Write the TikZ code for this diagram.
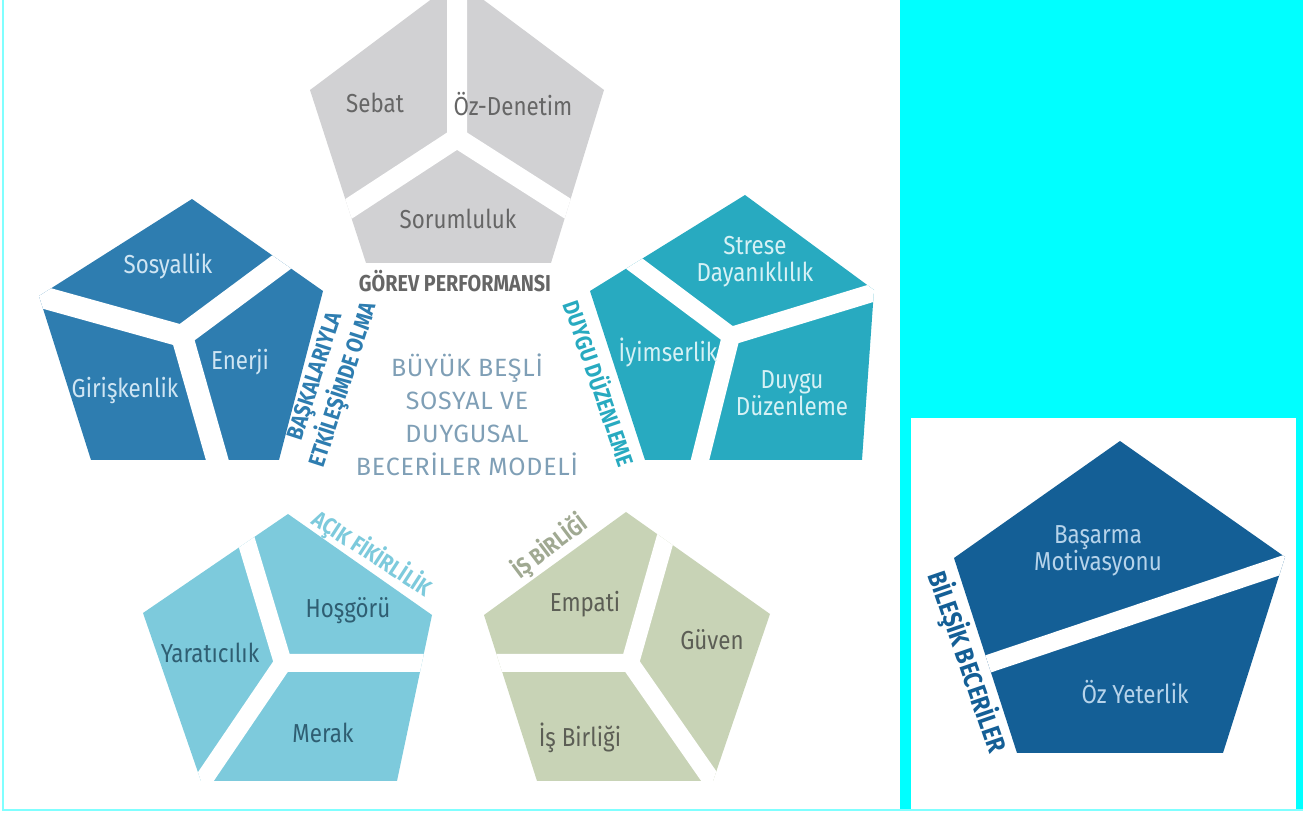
\documentclass[tikz,border=0pt]{standalone}
\usepackage{fontspec}
\setmainfont{Fira Sans}[FakeStretch=0.86]
\newfontfamily\titlefont{Fira Sans}[LetterSpace=3]
\definecolor{gorev}{HTML}{D1D1D3}
\definecolor{etkil}{HTML}{2E7DB0}
\definecolor{duygu}{HTML}{28AAC0}
\definecolor{acik}{HTML}{7DCADC}
\definecolor{isbir}{HTML}{C8D3B6}
\definecolor{bilesik}{HTML}{145F96}
\definecolor{cyanbox}{HTML}{00FFFF}
\definecolor{gtext}{HTML}{666666}
\definecolor{ltext}{HTML}{CFE5F3}
\definecolor{ttext}{HTML}{D6F1F5}
\definecolor{atext}{HTML}{2F5E72}
\definecolor{itext}{HTML}{5C5E55}
\definecolor{btext}{HTML}{B6D3EA}
\definecolor{title}{HTML}{7F9FB6}
\begin{document}
\begin{tikzpicture}[x=0.5pt, y=-0.5pt,
  every node/.style={inner sep=0pt, align=center, font=\fontsize{13}{13.5}\selectfont},
  gap/.style={white, line width=9pt},
  head/.style={font=\bfseries\fontsize{11.5}{13}\selectfont}]
\useasboundingbox (0,0) rectangle (1308,817);
% frame
\fill[cyanbox] (900,0) rectangle (1303,810);
\fill[white] (911,418) rectangle (1296,810);
\draw[cyanbox!50, line width=1pt] (3,0) -- (3,810) -- (1303,810);
% gorev performansi
\begin{scope}
  \clip (310,90) -- (457,-20) -- (604,90) -- (551,263) -- (366,263) -- cycle;
  \fill[gorev] (300,-30) rectangle (620,270);
  \draw[gap, line width=10pt] (457,138) -- (457,-30) (457,138) -- (330,221) (457,138) -- (587,221);
\end{scope}
% baskalariyla etkilesimde olma
\begin{scope}
  \clip (39,296) -- (192,199) -- (323,291) -- (279,460) -- (91,460) -- cycle;
  \fill[etkil] (30,190) rectangle (330,470);
  \draw[gap, line width=11pt] (182,336) -- (20,291) (182,336) -- (310,241) (182,336) -- (223,480);
\end{scope}
% duygu duzenleme
\begin{scope}
  \clip (590,291) -- (745,195) -- (874,290) -- (862,460) -- (645,460) -- cycle;
  \fill[duygu] (580,190) rectangle (880,470);
  \draw[gap] (731,336) -- (612,247) (731,336) -- (895,286) (731,336) -- (695,480);
\end{scope}
% acik fikirlilik
\begin{scope}
  \clip (143,613) -- (288,514) -- (432,615) -- (397,781) -- (201,781) -- cycle;
  \fill[acik] (130,505) rectangle (440,790);
  \draw[gap] (283,663) -- (240,520) (283,663) -- (450,663) (283,663) -- (192,797);
\end{scope}
% is birligi
\begin{scope}
  \clip (484,615) -- (626,512) -- (770,614) -- (713,781) -- (537,781) -- cycle;
  \fill[isbir] (475,505) rectangle (780,790);
  \draw[gap] (630,663) -- (672,515) (630,663) -- (465,663) (630,663) -- (724,798);
\end{scope}
% bilesik beceriler
\begin{scope}
  \clip (954,558) -- (1120,441) -- (1285,557) -- (1223,753) -- (1017,753) -- cycle;
  \fill[bilesik] (945,435) rectangle (1290,760);
  \draw[gap] (1300,559) -- (970,670);
\end{scope}
% labels
\node[gtext] (sebat) at (375,103) {Sebat};
\node[gtext] (ozdenetim) at (513,104) {Öz-Denetim};
\node[gtext] (sorum) at (458,219) {Sorumluluk};
\node[head, gtext] (gorevlbl) at (455,281) {GÖREV PERFORMANSI};
\node[ltext] (sosyal) at (168,266) {Sosyallik};
\node[ltext] (girisken) at (125,390) {Girişkenlik};
\node[ltext] (enerji) at (240,362) {Enerji};
\node[head, etkil, rotate=72] (etkillbl) at (331,381) {BAŞKALARIYLA\\ETKİLEŞİMDE OLMA};
\node[ttext] (strese) at (755,262) {Strese\\Dayanıklılık};
\node[ttext] (iyimser) at (668,352) {İyimserlik};
\node[ttext] (duyguduz) at (792,393) {Duygu\\Düzenleme};
\node[head, duygu, rotate=-71] (duygulbl) at (601,383) {DUYGU DÜZENLEME};
\node[title, font=\titlefont\fontsize{12.5}{16.5}\selectfont] (model) at (467,415)
  {BÜYÜK BEŞLİ\\SOSYAL VE\\DUYGUSAL\\BECERİLER MODELİ};
\node[atext] (hosgoru) at (348,611) {Hoşgörü};
\node[atext] (yaratici) at (210,653) {Yaratıcılık};
\node[atext] (merak) at (323,733) {Merak};
\node[head, acik, rotate=-33] (aciklbl) at (372,554) {AÇIK FİKİRLİLİK};
\node[itext] (empati) at (585,604) {Empati};
\node[itext] (guven) at (712,640) {Güven};
\node[itext] (isbirligi) at (580,738) {İş Birliği};
\node[head, isbir!80!black, rotate=37] (isbirlbl) at (550,547) {İŞ BİRLİĞİ};
\node[btext] (basarma) at (1098,551) {Başarma\\Motivasyonu};
\node[btext] (ozyeter) at (1135,692) {Öz Yeterlik};
\node[head, bilesik, rotate=-71, font=\bfseries\fontsize{13}{14}\selectfont] (bilesiklbl) at (967,662) {BİLEŞİK BECERİLER};
\end{tikzpicture}
\end{document}
